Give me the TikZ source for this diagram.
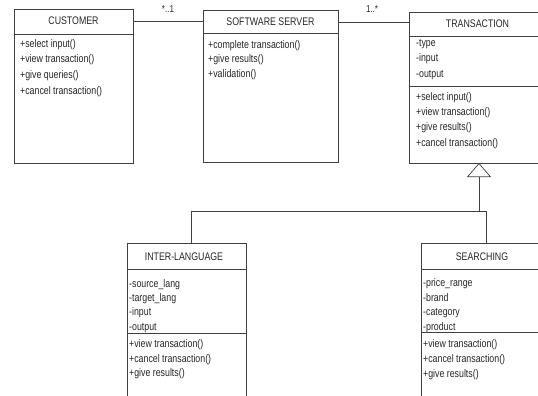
\documentclass[tikz,border=0pt]{standalone}
\usepackage{fontspec}
\setmainfont[FakeStretch=0.8]{Liberation Sans}
\usetikzlibrary{arrows.meta}
\begin{document}
\begin{tikzpicture}[x=1pt,y=-1pt,
  classbox/.style={draw=black!75, line width=0.7pt, anchor=north west,
    inner sep=0pt, outer sep=0pt, minimum width=#1},
  sepline/.style={draw=black!75, line width=0.7pt},
  link/.style={draw=black!75, line width=0.7pt},
  title/.style={font=\fontsize{11}{13}\selectfont, text=black!85, inner sep=0pt},
  member/.style={font=\fontsize{11}{13}\selectfont, text=black!85, inner sep=0pt, anchor=base west},
  mult/.style={font=\fontsize{10}{12}\selectfont, text=black!85, inner sep=0pt}]
\useasboundingbox (0,0) rectangle (538,396);
\clip (0,0) rectangle (538,396);

% ---------- class boxes ----------
\node[classbox=119pt, minimum height=154pt] (cust) at (14,9) {};
\node[classbox=135pt, minimum height=152pt] (srv) at (203,10) {};
\node[classbox=136pt, minimum height=151pt] (trans) at (409,12) {};
\node[classbox=119pt, minimum height=170pt] (inter) at (127,243) {};
\node[classbox=122pt, minimum height=170pt] (srch) at (421,243) {};

% compartment separators
\draw[sepline] (14,34) -- (133,34);
\draw[sepline] (203,33) -- (338,33);
\draw[sepline] (409,36) -- (545,36);
\draw[sepline] (409,86) -- (545,86);
\draw[sepline] (127,269) -- (246,269);
\draw[sepline] (127,333) -- (246,333);
\draw[sepline] (421,269) -- (543,269);
\draw[sepline] (421,332) -- (543,332);

% ---------- titles ----------
\node[title] (cust-t) at (73.5,20.5) {CUSTOMER};
\node[title] (srv-t) at (270.5,22) {SOFTWARE SERVER};
\node[title] (trans-t) at (477.5,23.5) {TRANSACTION};
\node[title] (inter-t) at (184,256.5) {INTER-LANGUAGE};
\node[title] (srch-t) at (482,257) {SEARCHING};

% ---------- members ----------
\foreach \t [count=\i from 0] in {+select input(),+view transaction(),+give queries(),+cancel transaction()}
  \node[member] (cust-m\i) at (20,47.5+15.5*\i) {\t};
\foreach \t [count=\i from 0] in {+complete transaction(),+give results(),+validation()}
  \node[member] (srv-m\i) at (208,48.5+14.5*\i) {\t};
\foreach \t [count=\i from 0] in {-type,-input,-output}
  \node[member] (trans-a\i) at (416,46.5+15.5*\i) {\t};
\foreach \t [count=\i from 0] in {+select input(),+view transaction(),+give results(),+cancel transaction()}
  \node[member] (trans-m\i) at (416,100.5+15.2*\i) {\t};
\foreach \t [count=\i from 0] in {-source\_lang,-target\_lang,-input,-output}
  \node[member] (inter-a\i) at (129,287.5+14.2*\i) {\t};
\foreach \t [count=\i from 0] in {+view transaction(),+cancel transaction(),+give results()}
  \node[member] (inter-m\i) at (129,347.5+14.5*\i) {\t};
\foreach \t [count=\i from 0] in {-price\_range,-brand,-category,-product}
  \node[member] (srch-a\i) at (423,286.5+14.7*\i) {\t};
\foreach \t [count=\i from 0] in {+view transaction(),+cancel transaction(),+give results()}
  \node[member] (srch-m\i) at (423,347.5+15*\i) {\t};

% ---------- associations ----------
\coordinate (a1) at (0,21);
\coordinate (a2) at (0,22);
\draw[link] (cust.east |- a1) -- (srv.west |- a1);
\draw[link] (srv.east |- a2) -- (trans.west |- a2);
\node[mult] (m1) at (168,9) {*..1};
\node[mult] (m2) at (372,9) {1..*};

% ---------- generalisation ----------
\coordinate (apex) at (479,163);
\coordinate (bus) at (0,211);
\coordinate (itop) at (191,243);
\coordinate (stop) at (486,243);
\draw[link] (itop) -- (itop |- bus) -- (stop |- bus) -- (stop);
\draw[link, -{Triangle[open, length=14pt, width=24pt, line width=0.7pt]}] (apex |- bus) -- (apex);
\end{tikzpicture}
\end{document}
